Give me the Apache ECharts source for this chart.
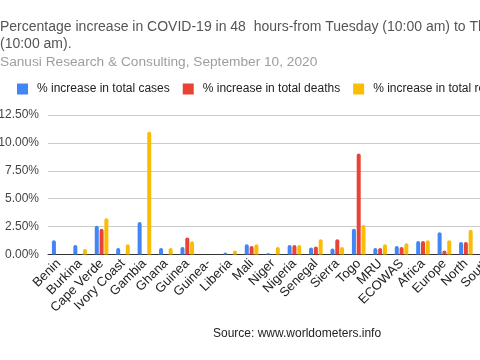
<!DOCTYPE html>
<html>
<head>
<meta charset="utf-8">
<script src="https://cdn.jsdelivr.net/npm/echarts@6/dist/echarts.min.js"></script>
<style>html,body{margin:0;padding:0;background:#fff;}#c{width:480px;height:360px;}</style>
</head>
<body>
<div id="c"></div>
<script>
const categories = ['Benin','Burkina','Cape Verde','Ivory Coast','Gambia','Ghana','Guinea','Guinea-','Liberia','Mali','Niger','Nigeria','Senegal','Sierra','Togo','MRU','ECOWAS','Africa','Europe','North','South'];
const seriesNames = ['% increase in total cases','% increase in total deaths','% increase in total recoveries'];
const totalCases      = [1.27,0.86,2.57,0.59,2.92,0.59,0.68,0,0.18,0.92,0.12,0.86,0.62,0.53,2.30,0.59,0.77,1.21,2.00,1.12,null];
const totalDeaths     = [0,0,2.30,0,0,0,1.53,0,0,0.77,0,0.86,0.71,1.36,9.04,0.59,0.68,1.21,0.35,1.12,null];
const totalRecoveries = [0,0.50,3.25,0.92,11.00,0.59,1.18,0,0.35,0.92,0.68,0.86,1.36,0.68,2.65,0.92,1.00,1.27,1.27,2.21,null];
const yTicks = [0,2.5,5,7.5,10,12.5];
const colors = ['#4285F4','#EA4335','#FBBC04'];

const font = 'Arial, "Liberation Sans", sans-serif';
const chart = echarts.init(document.getElementById('c'), null, {renderer:'canvas'});
const vals = [totalCases,totalDeaths,totalRecoveries];
chart.setOption({
  animation:false,
  color: colors,
  textStyle:{fontFamily:font},
  title:[{
    text:'Percentage increase in COVID-19 in 48  hours-from Tuesday (10:00 am) to Thursday\n(10:00 am).',
    left:0, top:19, padding:0,
    textStyle:{fontSize:14, fontWeight:'normal', color:'#555', lineHeight:17, fontFamily:font}
  },{
    text:'Sanusi Research & Consulting, September 10, 2020',
    left:0, top:55, padding:0,
    textStyle:{fontSize:13.7, fontWeight:'normal', color:'#9e9e9e', fontFamily:font}
  }],
  legend:{
    left:17, top:83, padding:0, width:1000,
    itemWidth:11, itemHeight:11, itemGap:13,
    icon:'rect',
    textStyle:{fontSize:12, color:'#222', fontFamily:font, padding:[0,0,0,4]},
    data: seriesNames
  },
  grid:{left:48, width:450, top:115, bottom:105.5, containLabel:false, outerBoundsMode:'none'},
  xAxis:{
    type:'category', data:categories,
    axisTick:{show:false},
    axisLine:{lineStyle:{color:'#333', width:1}},
    axisLabel:{rotate:45, fontSize:13, color:'#222', margin:7, interval:0, fontFamily:font}
  },
  yAxis:{
    type:'value', min:yTicks[0], max:yTicks[yTicks.length-1], interval:2.5,
    axisLine:{show:false}, axisTick:{show:false},
    splitLine:{lineStyle:{color:'#ccc'}},
    axisLabel:{fontSize:12, color:'#444', margin:9, fontFamily:font, formatter:v=>v.toFixed(2)+'%'}
  },
  series: seriesNames.map((n,i)=>({
    name:n, type:'bar', data:vals[i],
    barWidth:4, barGap:'20%',
    itemStyle:{borderRadius:[2,2,0,0]}
  })),
  graphic:[{
    type:'text', left:213, top:328,
    style:{text:'Source: www.worldometers.info', fontSize:12, fill:'#222', fontFamily:font}
  }]
});
</script>
</body>
</html>
